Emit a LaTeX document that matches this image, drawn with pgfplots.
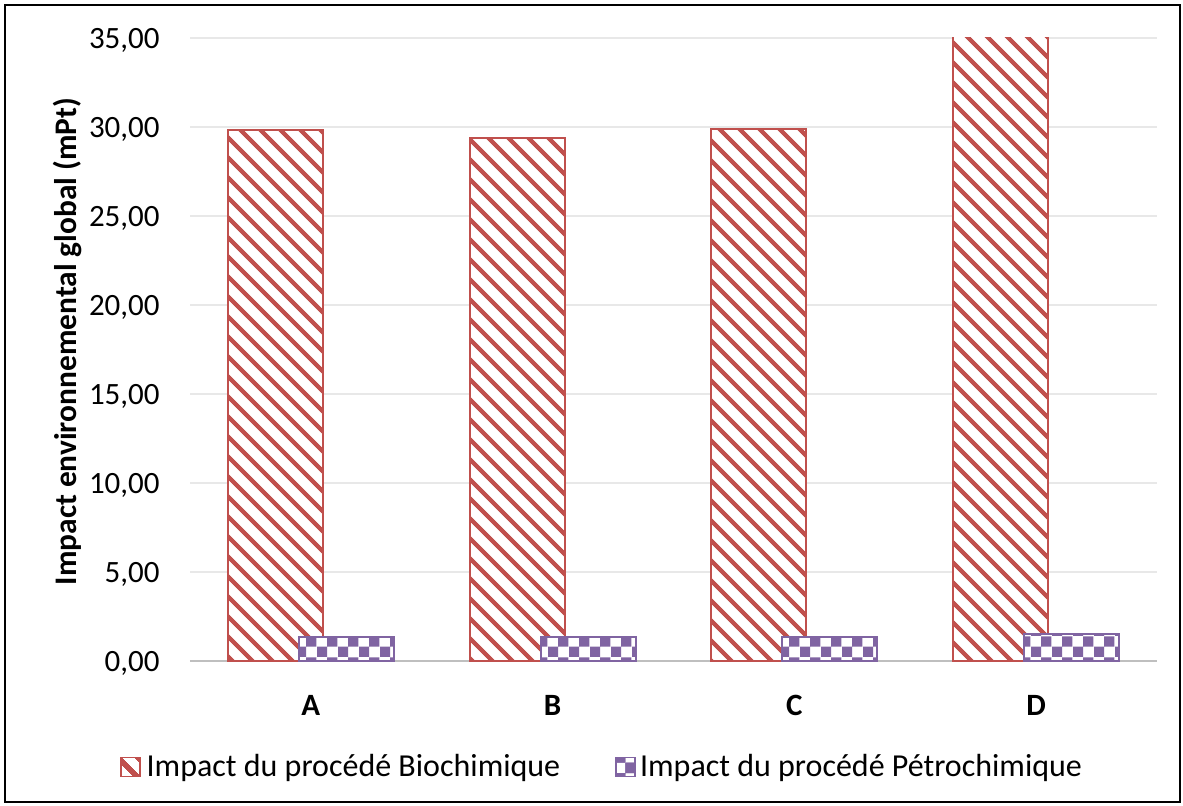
\documentclass[border=0pt]{standalone}
\usepackage{fontspec}
\setmainfont{Carlito}
\usepackage{pgfplots}
\pgfplotsset{compat=1.18}
\usetikzlibrary{patterns,patterns.meta}

\definecolor{bioRed}{HTML}{C0504D}
\definecolor{petPurple}{HTML}{8064A2}

\pgfdeclarepattern{
  name=checker, type=uncolored,
  bottom left={\pgfpoint{0pt}{0pt}},
  top right={\pgfpoint{10.6pt}{10.6pt}},
  tile size={\pgfpoint{10.6pt}{10.6pt}},
  code={
    \pgfpathrectangle{\pgfpoint{0pt}{0pt}}{\pgfpoint{5.3pt}{5.3pt}}
    \pgfpathrectangle{\pgfpoint{5.3pt}{5.3pt}}{\pgfpoint{5.3pt}{5.3pt}}
    \pgfusepath{fill}
  }
}

\pgfplotstableread{
x bio petro
0 29.85 1.36
1 29.40 1.37
2 29.90 1.37
3 35.30 1.52
}\datatable

\begin{document}
\begin{tikzpicture}
\useasboundingbox (0,0) rectangle (591.5pt,402.5pt);
\draw[line width=1pt] (2.5pt,1.5pt) rectangle (590pt,400pt);
\begin{axis}[
  at={(95pt,72pt)}, anchor=south west, scale only axis,
  width=483.5pt, height=311.5pt,
  xmin=-0.5, xmax=3.5, ymin=0, ymax=35,
  xtick={0,1,2,3}, xticklabels={\textbf{A},\textbf{B},\textbf{C},\textbf{D}},
  ytick={0,5,...,35},
  ymajorgrids, grid style={color=gray!18, line width=0.75pt},
  extra y ticks={0}, extra y tick labels={},
  extra y tick style={grid style={color=gray!50, line width=1.2pt}},
  major tick length=0pt,
  axis line style={draw=none},
  ybar, bar width=47.5pt,
  yticklabel style={/pgf/number format/fixed, /pgf/number format/fixed zerofill, /pgf/number format/precision=2, /pgf/number format/use comma, /pgf/number format/assume math mode=true},
  yticklabel style={anchor=east, inner sep=0pt, xshift=-15pt, text depth=0pt},
  xticklabel style={anchor=north, inner sep=0pt, yshift=-17pt},
  tick label style={font=\fontsize{15.5}{18}\selectfont},
  every axis y label/.style={at={(axis description cs:-0.127,0.513)}, rotate=90, anchor=center, font=\fontsize{15.7}{18}\selectfont\bfseries},
  ylabel={Impact environnemental global (mPt)},
  legend style={at={(0.424,-0.170)}, anchor=center, draw=none, fill=none,
    font=\fontsize{16}{19}\selectfont,
    nodes={inner sep=0pt},
    /tikz/every even column/.append style={column sep=27.5pt},
    /tikz/every odd column/.append style={column sep=2pt}},
  legend columns=2,
]
\addplot[bar shift=-17.75pt, draw=bioRed, line width=0.9pt, fill=white,
  postaction={pattern={Lines[angle=-45,distance=7.4pt,line width=2.3pt]}, pattern color=bioRed},
  legend image code/.code={\draw[draw=bioRed, line width=0.9pt, fill=white, postaction={pattern={Lines[angle=-45,distance=7.4pt,line width=2.8pt]}, pattern color=bioRed}] (0pt,-4.75pt) rectangle (9.5pt,4.75pt);}]
  table[x=x, y=bio] {\datatable};
\addlegendentry{Impact du procédé Biochimique}
\addplot[bar shift=17.75pt, draw=petPurple, line width=0.9pt, fill=white,
  postaction={pattern=checker, pattern color=petPurple},
  legend image code/.code={\draw[draw=petPurple, line width=0.9pt, fill=white, postaction={pattern=checker, pattern color=petPurple}] (0pt,-4.75pt) rectangle (9.5pt,4.75pt);}]
  table[x=x, y=petro] {\datatable};
\addlegendentry{Impact du procédé Pétrochimique}
\end{axis}
\end{tikzpicture}
\end{document}
